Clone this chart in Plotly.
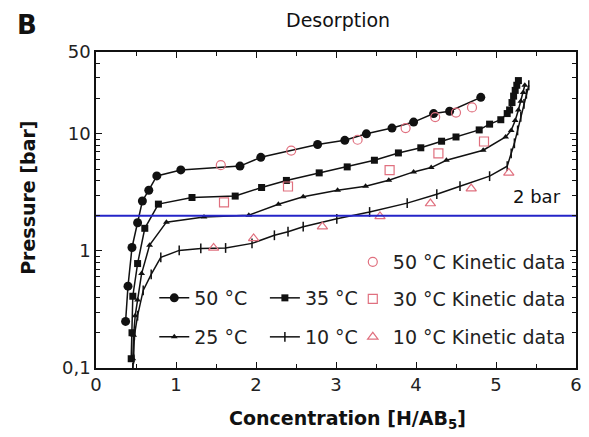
import plotly.graph_objects as go

# ---------------- data ----------------
x50 = [0.37, 0.40, 0.45, 0.52, 0.58, 0.66, 0.76, 1.06, 1.80, 2.06, 2.77, 3.11, 3.38, 3.70, 3.97, 4.22, 4.42, 4.81]
p50 = [0.25, 0.50, 1.07, 1.74, 2.67, 3.30, 4.37, 4.92, 5.30, 6.30, 8.1, 8.8, 10.0, 11.2, 12.6, 14.9, 15.6, 20.5]

x35 = [0.44, 0.45, 0.46, 0.52, 0.61, 0.78, 1.20, 1.74, 2.07, 2.38, 2.79, 3.14, 3.48, 3.78, 4.06, 4.32, 4.50,
       4.79, 4.92, 5.06, 5.14, 5.17, 5.20, 5.22, 5.24, 5.26, 5.28]
p35 = [0.12, 0.20, 0.41, 0.78, 1.56, 2.51, 2.86, 2.94, 3.48, 4.0, 4.64, 5.22, 5.95, 6.87, 7.6, 8.65, 9.4,
       10.8, 12.1, 13.2, 14.9, 16.0, 18.5, 21.0, 23.5, 26.0, 28.5]

x25 = [0.46, 0.47, 0.49, 0.52, 0.57, 0.67, 0.88, 1.35, 1.91, 2.28, 2.59, 3.02, 3.37, 3.66, 3.97, 4.19, 4.38,
       4.84, 5.12, 5.19, 5.24, 5.28, 5.31, 5.34, 5.36]
p25 = [0.12, 0.19, 0.28, 0.38, 0.64, 1.12, 1.76, 1.95, 2.02, 2.5, 2.9, 3.30, 3.57, 4.02, 4.73, 5.15, 5.95,
       7.25, 9.4, 10.7, 13.0, 16.0, 19.0, 22.5, 26.0]

x10 = [0.46, 0.47, 0.48, 0.52, 0.59, 0.69, 0.81, 1.04, 1.31, 1.62, 1.95, 2.23, 2.40, 2.59, 3.01, 3.42, 3.89,
       4.26, 4.55, 4.92, 5.14, 5.19, 5.23, 5.27, 5.31, 5.35, 5.38, 5.41]
p10 = [0.10, 0.12, 0.19, 0.28, 0.46, 0.63, 0.88, 1.01, 1.05, 1.06, 1.16, 1.36, 1.46, 1.61, 1.88, 2.15, 2.56,
       3.05, 3.57, 4.35, 5.3, 6.8, 8.3, 10.7, 14.0, 18.0, 22.0, 26.0]

xk50 = [1.56, 2.44, 3.27, 3.87, 4.24, 4.50, 4.70]
pk50 = [5.4, 7.2, 8.9, 11.2, 13.9, 15.2, 16.8]

xk30 = [1.60, 2.40, 3.67, 4.28, 4.85]
pk30 = [2.6, 3.55, 4.9, 6.8, 8.6]

xk10 = [1.47, 1.97, 2.83, 3.55, 4.18, 4.69, 5.16]
pk10 = [1.06, 1.28, 1.61, 1.97, 2.54, 3.41, 4.64]

ref_pressure = 2.0
x_span = [0, 6]

x_ticks = [0, 1, 2, 3, 4, 5, 6]
x_minor = [0.5, 1.5, 2.5, 3.5, 4.5, 5.5]
y_ticks = [0.1, 1, 10, 50]
y_ticktext = ["0,1", "1", "10", "50"]
y_minor = [0.2, 0.3, 0.4, 0.5, 0.6, 0.7, 0.8, 0.9, 2, 3, 4, 5, 6, 7, 8, 9, 20, 30, 40]

# ---------------- style ----------------
FONT = "DejaVu Sans"
BLACK = "#111111"
PINK = "#e0707f"
BLUE = "#2424c8"

# geometry helpers (plot area in px)
W, H = 589, 437
L, R, T, B = 96, 7, 52, 69
PW, PH = W - L - R, H - T - B


def px_x(px):
    return (px - L) / PW


def px_y(py):
    return (H - B - py) / PH


fig = go.Figure()

series = [
    ("50 °C", x50, p50, "circle", 9, "legend"),
    ("35 °C", x35, p35, "square", 7, "legend2"),
    ("25 °C", x25, p25, "triangle-up", 6, "legend3"),
]
for name, xs, ps, sym, sz, leg in series:
    fig.add_trace(go.Scatter(
        x=xs, y=ps, mode="lines+markers", name=name, legend=leg,
        line=dict(color=BLACK, width=1.5),
        marker=dict(symbol=sym, size=sz, color=BLACK),
    ))

fig.add_trace(go.Scatter(
    x=x10, y=p10, mode="lines+markers", name="10 °C", legend="legend4",
    line=dict(color=BLACK, width=1.5),
    marker=dict(symbol="line-ns-open", size=7, color=BLACK, line=dict(color=BLACK, width=1.5)),
))

kin = [
    ("50 °C Kinetic data", xk50, pk50, "circle-open", "legend5"),
    ("30 °C Kinetic data", xk30, pk30, "square-open", "legend6"),
    ("10 °C Kinetic data", xk10, pk10, "triangle-up-open", "legend7"),
]
for name, xs, ps, sym, leg in kin:
    fig.add_trace(go.Scatter(
        x=xs, y=ps, mode="markers", name=name, legend=leg,
        marker=dict(symbol=sym, size=9, color=PINK, line=dict(color=PINK, width=1.2)),
    ))

# 2 bar reference line
fig.add_trace(go.Scatter(
    x=x_span, y=[ref_pressure, ref_pressure], mode="lines", showlegend=False,
    line=dict(color=BLUE, width=2), hoverinfo="skip",
))

axis_common = dict(
    showline=True, linecolor=BLACK, linewidth=1.5, mirror="ticks",
    ticks="inside", ticklen=6, tickwidth=1.2, tickcolor=BLACK,
    showgrid=False, zeroline=False,
    tickfont=dict(family=FONT, size=18, color="#222"),
)

fig.update_xaxes(
    range=x_span, tickvals=x_ticks,
    minor=dict(tickvals=x_minor, ticks="inside", ticklen=4, tickcolor=BLACK),
    **axis_common,
)
fig.update_yaxes(
    type="log", range=[-1, 1.69897], tickvals=y_ticks, ticktext=y_ticktext,
    minor=dict(tickvals=y_minor, ticks="inside", ticklen=4, tickcolor=BLACK),
    **axis_common,
)

leg_font = dict(family=FONT, size=19, color="#222")


def leg(xpx, ypx):
    return dict(x=px_x(xpx), y=px_y(ypx), xanchor="left", yanchor="middle",
                bgcolor="rgba(0,0,0,0)", borderwidth=0, font=leg_font)


def ann(text, xpx, ypx, size, xanchor="center", **kw):
    return dict(text=text, x=px_x(xpx), y=px_y(ypx), xref="paper", yref="paper",
                xanchor=xanchor, yanchor="middle", showarrow=False,
                font=dict(family=FONT, size=size, color="#111"), **kw)


fig.update_layout(
    width=W, height=H, autosize=False,
    margin=dict(l=L, r=R, t=T, b=B),
    plot_bgcolor="white", paper_bgcolor="white",
    font=dict(family=FONT, color="#222"),
    legend=leg(155, 298),
    legend2=leg(267, 298),
    legend3=leg(155, 337),
    legend4=leg(267, 337),
    legend5=leg(356, 262),
    legend6=leg(356, 299),
    legend7=leg(356, 337),
    annotations=[
        ann("<b>B</b>", 26, 25, 26),
        ann("Desorption", 341, 20, 19),
        ann("2 bar", 569, 196, 18, xanchor="right"),
        ann("<b>Concentration [H/AB<sub>5</sub>]</b>", 351, 419, 19),
        ann("<b>Pressure [bar]</b>", 27, 198, 19, textangle=-90),
    ],
)

fig.write_html("out.html")
